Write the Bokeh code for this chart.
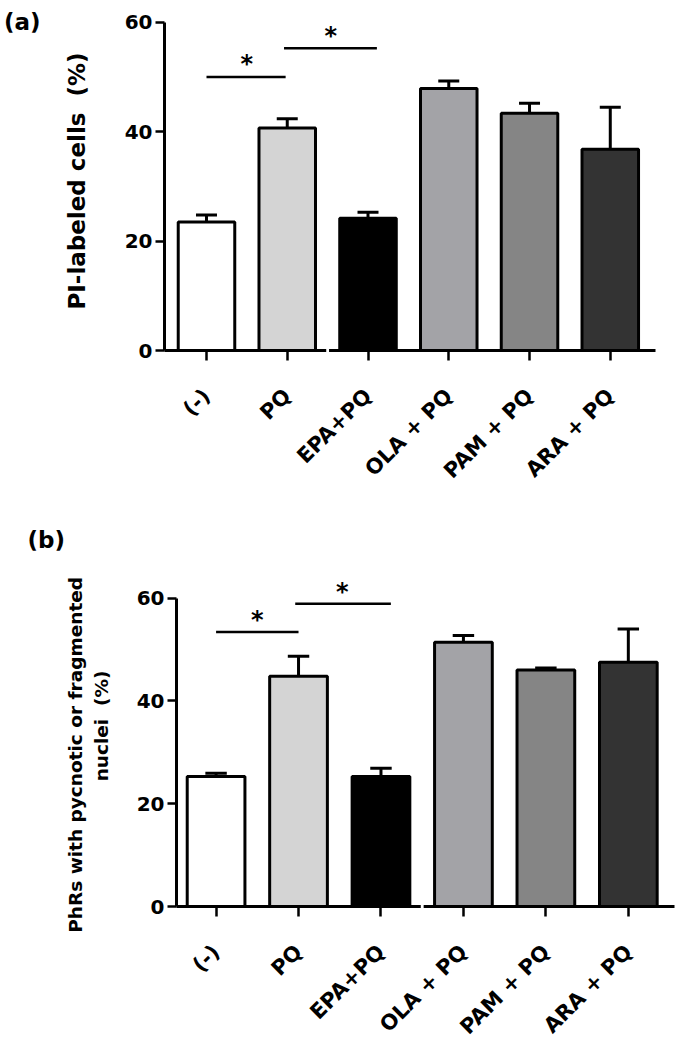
import math
from bokeh.plotting import figure
from bokeh.models import ColumnDataSource, FixedTicker, Range1d, LinearAxis, Title
from bokeh.embed import file_html
from bokeh.resources import INLINE
from bokeh.core.properties import value

# ---------------- data ----------------
categories = ["(-)", "PQ", "EPA+PQ", "OLA + PQ", "PAM + PQ", "ARA + PQ"]
bar_colors = ["#ffffff", "#d4d4d4", "#000000", "#a3a3a7", "#858585", "#333333"]

a_mean = [23.5, 40.7, 24.2, 47.9, 43.4, 36.8]
a_err = [1.3, 1.7, 1.1, 1.4, 1.8, 7.7]
b_mean = [25.3, 44.8, 25.3, 51.4, 46.0, 47.5]
b_err = [0.6, 3.9, 1.6, 1.3, 0.4, 6.5]

# significance brackets (start category, end category, level) and stars
a_sig_x0 = [0.0, 0.96]
a_sig_x1 = [0.98, 2.11]
a_sig_y = [50.0, 55.3]
a_star_x = [0.5, 1.54]
a_star_y = [52.7, 57.9]

b_sig_x0 = [0.0, 0.96]
b_sig_x1 = [1.0, 2.12]
b_sig_y = [53.4, 58.9]
b_star_x = [0.5, 1.53]
b_star_y = [56.1, 61.6]

y_ticks = [0, 20, 40, 60]

FONT = "DejaVu Sans"
PAGE_W = 677
NB = "\u00a0"


def make_panel(mean, err, sig_x0, sig_x1, sig_y, star_x, star_y,
               FL, FR, FT, FB, fig_top, fig_h, xr, yr, break_x, ylabel, ylabel_size, ylabel_standoff):
    p = figure(width=PAGE_W, height=fig_h, output_backend="svg",
               toolbar_location=None, title=None,
               x_range=Range1d(*xr), y_range=Range1d(*yr),
               min_border_left=FL, min_border_right=PAGE_W - FR,
               min_border_top=FT - fig_top, min_border_bottom=fig_top + fig_h - FB)
    p.outline_line_color = None
    p.grid.visible = False
    p.background_fill_color = "white"
    p.border_fill_color = "white"

    xs = list(range(len(categories)))
    src = ColumnDataSource(dict(x=xs, top=mean, color=bar_colors,
                                etop=[m + e for m, e in zip(mean, err)],
                                cl=[x - 0.13 for x in xs], cr=[x + 0.13 for x in xs]))
    p.vbar(x="x", top="top", bottom=0, width=0.7, fill_color="color",
           line_color="black", line_width=3, source=src)
    p.segment(x0="x", y0="top", x1="x", y1="etop", line_color="black",
              line_width=3, source=src)
    p.segment(x0="cl", y0="etop", x1="cr", y1="etop", line_color="black",
              line_width=3, source=src)

    p.segment(x0=sig_x0, y0=sig_y, x1=sig_x1, y1=sig_y, line_color="black", line_width=2.5)
    p.text(x=star_x, y=star_y, text=["*"] * len(star_x), text_font=value(FONT),
           text_font_style="bold", text_font_size="24px", text_align="center",
           text_baseline="middle", y_offset=2)

    # small break in the x axis line
    p.rect(x=[break_x], y=[0], width=0.035, height=12, height_units="screen",
           fill_color="white", line_color=None, level="overlay")

    # axes
    yax = p.yaxis[0]
    yax.ticker = FixedTicker(ticks=y_ticks)
    yax.bounds = (0, 60)
    yax.axis_line_width = 3
    yax.major_tick_line_width = 2.5
    yax.major_tick_out = 9
    yax.major_tick_in = 0
    yax.minor_tick_line_color = None
    yax.major_label_text_font = FONT
    yax.major_label_text_font_style = "bold"
    yax.major_label_text_font_size = "20px"
    yax.major_label_text_color = "black"
    yax.major_label_standoff = 3
    yax.axis_label = ylabel
    yax.axis_label_text_font = FONT
    yax.axis_label_text_font_style = "bold"
    yax.axis_label_text_font_size = ylabel_size
    yax.axis_label_text_color = "black"
    yax.axis_label_standoff = ylabel_standoff

    xax = p.xaxis[0]
    xax.ticker = FixedTicker(ticks=xs)
    xax.major_label_overrides = {i: c for i, c in enumerate(categories)}
    xax.axis_line_width = 3
    xax.major_tick_line_width = 2.5
    xax.major_tick_out = 10
    xax.major_tick_in = 0
    xax.minor_tick_line_color = None
    xax.major_label_orientation = math.pi / 4
    xax.major_label_text_font = FONT
    xax.major_label_text_font_style = "bold"
    xax.major_label_text_font_size = "21px"
    xax.major_label_text_color = "black"
    xax.major_label_standoff = 32
    return p


# ---------------- panel (a) ----------------
pa = make_panel(a_mean, a_err, a_sig_x0, a_sig_x1, a_sig_y, a_star_x, a_star_y,
                FL=154, FR=655, FT=11, FB=350, fig_top=0, fig_h=500,
                xr=(-0.52, 5.56), yr=(0, 62), break_x=1.5,
                ylabel="PI-labeled cells " + NB + "(%)", ylabel_size="23px", ylabel_standoff=32)
# panel letter, drawn as the single label of an extra bare axis
letter_axis = LinearAxis(ticker=FixedTicker(ticks=[60]), major_label_overrides={60: "(a)"},
                         axis_line_color=None, major_tick_line_color=None,
                         minor_tick_line_color=None, major_label_standoff=14,
                         major_label_text_font=FONT, major_label_text_font_style="bold",
                         major_label_text_font_size="23px", major_label_text_color="black")
pa.add_layout(letter_axis, "left")

# ---------------- panel (b) ----------------
pb = make_panel(b_mean, b_err, b_sig_x0, b_sig_x1, b_sig_y, b_star_x, b_star_y,
                FL=176, FR=674, FT=577, FB=913, fig_top=500, fig_h=550,
                xr=(-0.48, 5.56), yr=(0, 64), break_x=2.5,
                ylabel="PhRs with pycnotic or fragmented" + NB * 4 + "\n" + NB * 5 + "nuclei " + NB + "(%)",
                ylabel_size="18.5px", ylabel_standoff=22)
pb.add_layout(Title(text="(b)", align="left", offset=27 - 176, standoff=49,
                    text_font=FONT, text_font_style="bold", text_font_size="23px",
                    text_color="black"), "above")

open("out.html", "w").write(file_html([pa, pb], INLINE))
